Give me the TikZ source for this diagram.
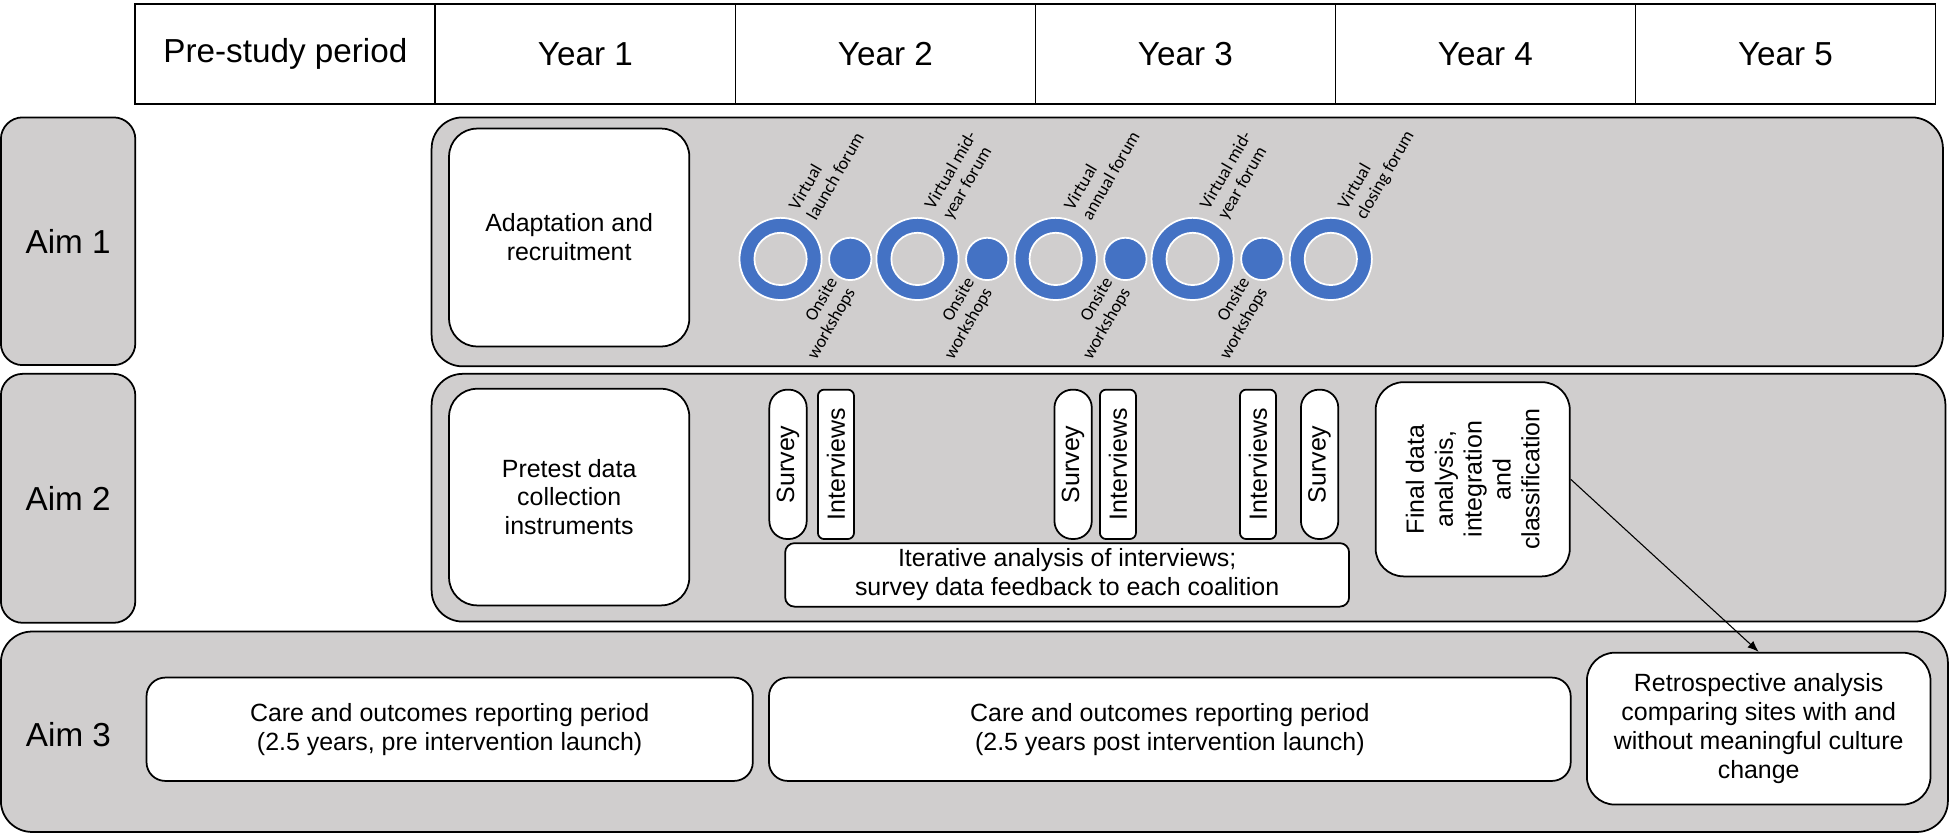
\documentclass[tikz,border=0pt]{standalone}
\usepackage{fontspec}
\setmainfont{Liberation Sans}
\newfontfamily\calfont{Carlito}
\usepackage{tikz}
\usetikzlibrary{positioning}
\usetikzlibrary{arrows.meta}

\definecolor{bandgray}{RGB}{208,206,206}
\definecolor{forumblue}{RGB}{68,114,196}

\begin{document}
\begin{tikzpicture}[
  hdr/.style={rectangle, draw=black, line width=0.8pt, minimum height=1.6cm, minimum width=4.82cm, anchor=south west, font=\fontsize{15.2}{17}\selectfont},
  aimbox/.style={rectangle, rounded corners=0.35cm, draw=black, line width=0.8pt, fill=bandgray, anchor=south west, font=\fontsize{15.2}{17}\selectfont},
  band/.style={rectangle, rounded corners=0.5cm, draw=black, line width=0.8pt, fill=bandgray, anchor=south west},
  task/.style={rectangle, rounded corners=0.45cm, draw=black, line width=0.8pt, fill=white, align=center, font=\fontsize{11.4}{13.2}\selectfont},
  forum/.style={circle, inner sep=0pt, draw=white, line width=0.8pt, fill=forumblue, minimum size=1.32cm},
  hole/.style={circle, inner sep=0pt, draw=white, line width=0.8pt, fill=bandgray, minimum size=0.84cm},
  workshop/.style={circle, inner sep=0pt, draw=white, line width=0.8pt, fill=forumblue, minimum size=0.68cm},
  tag/.style={rotate=60, inner sep=1pt, font=\calfont\fontsize{8.2}{9.4}\selectfont}
]
\useasboundingbox (0,0) rectangle (31.36,13.42);

\node at (2.16,11.74) [hdr] (pre) {Pre-study period};
\node at (6.98,11.74) [hdr] (yr1) {Year 1};
\node at (11.80,11.74) [hdr] (yr2) {Year 2};
\node at (16.62,11.74) [hdr] (yr3) {Year 3};
\node at (21.44,11.74) [hdr] (yr4) {Year 4};
\node at (26.26,11.74) [hdr] (yr5) {Year 5};

\node at (0,7.54) [aimbox, minimum width=2.16cm, minimum height=3.98cm] (aim1) {Aim 1};
\node at (0,3.4) [aimbox, minimum width=2.16cm, minimum height=4cm] (aim2) {Aim 2};

\node at (6.92,7.52) [band, minimum width=24.28cm, minimum height=4cm] (band1) {};
\node at (6.92,3.42) [band, minimum width=24.32cm, minimum height=3.98cm] (band2) {};
\node at (0,0.04) [band, minimum width=31.28cm, minimum height=3.22cm] (band3) {};
\node at (1.1,1.62) [font=\fontsize{15.2}{17}\selectfont] (aim3) {Aim 3};

% aim 1
\node at (7.2,7.84) [task, minimum width=3.86cm, minimum height=3.5cm, anchor=south west] (adapt) {Adaptation and\\recruitment};

\node at (12.54,9.26) [forum] (f1) {};
\node at (f1) [hole] (f1h) {};
\node at ([shift={(0.32,0.7)}]f1.center) [tag, anchor=west, align=left] (f1t) {Virtual\\launch forum};
\node at (13.66,9.26) [workshop] (w1) {};
\node at ([shift={(-0.1,-0.38)}]w1.center) [tag, anchor=east, align=right] (w1t) {Onsite\\workshops};

\node at (14.74,9.26) [forum] (f2) {};
\node at (f2) [hole] (f2h) {};
\node at ([shift={(0.32,0.7)}]f2.center) [tag, anchor=west, align=left] (f2t) {Virtual mid-\\year forum};
\node at (15.86,9.26) [workshop] (w2) {};
\node at ([shift={(-0.1,-0.38)}]w2.center) [tag, anchor=east, align=right] (w2t) {Onsite\\workshops};

\node at (16.96,9.26) [forum] (f3) {};
\node at (f3) [hole] (f3h) {};
\node at ([shift={(0.32,0.7)}]f3.center) [tag, anchor=west, align=left] (f3t) {Virtual\\annual forum};
\node at (18.08,9.26) [workshop] (w3) {};
\node at ([shift={(-0.1,-0.38)}]w3.center) [tag, anchor=east, align=right] (w3t) {Onsite\\workshops};

\node at (19.16,9.26) [forum] (f4) {};
\node at (f4) [hole] (f4h) {};
\node at ([shift={(0.32,0.7)}]f4.center) [tag, anchor=west, align=left] (f4t) {Virtual mid-\\year forum};
\node at (20.28,9.26) [workshop] (w4) {};
\node at ([shift={(-0.1,-0.38)}]w4.center) [tag, anchor=east, align=right] (w4t) {Onsite\\workshops};

\node at (21.38,9.26) [forum] (f5) {};
\node at (f5) [hole] (f5h) {};
\node at ([shift={(0.32,0.7)}]f5.center) [tag, anchor=west, align=left] (f5t) {Virtual\\closing forum};

% aim 2
\node at (7.2,3.68) [task, minimum width=3.86cm, minimum height=3.48cm, anchor=south west] (pretest) {Pretest data\\collection\\instruments};

\node at (12.66,5.96) [task, rotate=90, inner sep=1pt, minimum width=2.4cm, minimum height=0.6cm, rounded corners=0.29cm] (surv1) {Survey};
\node at (13.43,5.96) [task, rotate=90, inner sep=1pt, minimum width=2.4cm, minimum height=0.58cm, rounded corners=0.1cm] (intv1) {Interviews};
\node at (17.24,5.96) [task, rotate=90, inner sep=1pt, minimum width=2.4cm, minimum height=0.6cm, rounded corners=0.29cm] (surv2) {Survey};
\node at (17.96,5.96) [task, rotate=90, inner sep=1pt, minimum width=2.4cm, minimum height=0.58cm, rounded corners=0.1cm] (intv2) {Interviews};
\node at (20.21,5.96) [task, rotate=90, inner sep=1pt, minimum width=2.4cm, minimum height=0.58cm, rounded corners=0.1cm] (intv3) {Interviews};
\node at (21.2,5.96) [task, rotate=90, inner sep=1pt, minimum width=2.4cm, minimum height=0.6cm, rounded corners=0.29cm] (surv3) {Survey};

\node at (12.6,3.66) [task, minimum width=9.06cm, minimum height=1.02cm, rounded corners=0.15cm, anchor=south west, inner sep=1pt] (iter) {Iterative analysis of interviews;\\survey data feedback to each coalition};

\node at (23.66,5.72) [task, rotate=90, minimum width=3.12cm, minimum height=3.12cm] (final) {Final data\\analysis,\\integration\\and\\classification};

% aim 3
\node at (2.34,0.86) [task, minimum width=9.74cm, minimum height=1.66cm, rounded corners=0.3cm, anchor=south west] (care1) {Care and outcomes reporting period\\(2.5 years, pre intervention launch)};
\node at (12.34,0.86) [task, minimum width=12.88cm, minimum height=1.66cm, rounded corners=0.3cm, anchor=south west] (care2) {Care and outcomes reporting period\\(2.5 years post intervention launch)};
\node at (25.48,0.48) [task, minimum width=5.52cm, minimum height=2.44cm, anchor=south west] (retro) {Retrospective analysis\\comparing sites with and\\without meaningful culture\\change};

\draw[-{Latex[length=1.8mm,width=1.4mm]}, line width=0.5pt] (final.south) -- (retro.north);

\end{tikzpicture}
\end{document}
